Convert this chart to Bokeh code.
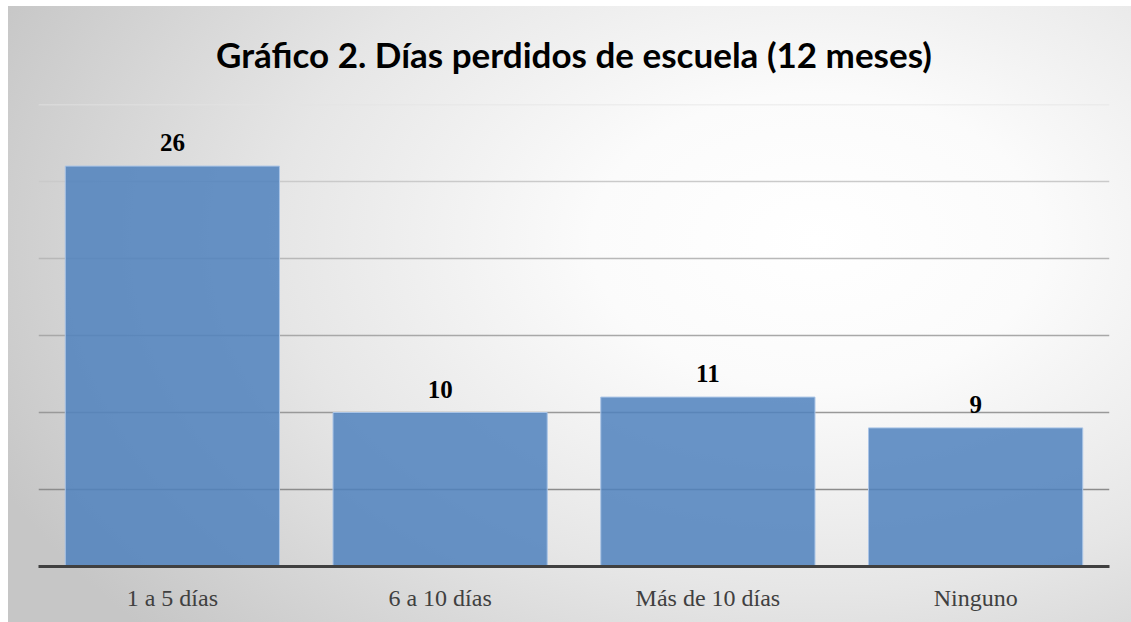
from bokeh.plotting import figure
from bokeh.embed import file_html
from bokeh.resources import INLINE
from bokeh.models import ColumnDataSource, Range1d
from bokeh.core.properties import value

categories = ["1 a 5 días", "6 a 10 días", "Más de 10 días", "Ninguno"]
values = [26, 10, 11, 9]
grid_ticks = [5, 10, 15, 20, 25, 30]
grid_colors = ["#8c8c8c", "#999999", "#a8a8a8", "#b8b8b8", "#cacaca", "#e4e4e4"]

src = ColumnDataSource(dict(cat=categories, val=values, lab=[str(v) for v in values]))

p = figure(x_range=categories, y_range=Range1d(0, 30), width=1131, height=622,
           output_backend="svg", toolbar_location=None,
           min_border_left=38, min_border_right=22, min_border_top=104, min_border_bottom=56)

p.styles = {"background": "radial-gradient(ellipse 80% 95% at 72% 38%, #ffffff 0%, #fbfbfb 25%, #e6e6e6 60%, #c6c6c6 100%) 8px 6px / calc(100% - 8px) calc(100% - 6px) no-repeat, #ffffff"}
p.border_fill_alpha = 0
p.background_fill_alpha = 0
p.outline_line_color = None

p.title.text = "Gráfico 2. Días perdidos de escuela (12 meses)"
p.title.align = "center"
p.title.text_font = "Lato"
p.title.text_font_style = "bold"
p.title.text_font_size = "35px"
p.title.text_color = "#000000"
p.title.standoff = 60

p.xgrid.grid_line_color = None
p.ygrid.grid_line_color = None
p.hspan(y=grid_ticks, line_color=grid_colors, line_width=1.5)

p.vbar(x="cat", top="val", width=0.8, source=src, fill_color="#4f81bd", fill_alpha=0.85,
       line_color="#a9c4e6", line_width=1)

p.text(x="cat", y="val", text="lab", source=src, text_align="center", text_baseline="bottom",
       y_offset=-15, text_font=value("Liberation Serif"), text_font_style="bold",
       text_font_size="25px", text_color="#000000")

p.yaxis.visible = False
p.xaxis.axis_line_color = "#404040"
p.xaxis.axis_line_width = 3
p.xaxis.major_tick_line_color = None
p.xaxis.minor_tick_line_color = None
p.xaxis.major_label_text_font = "Liberation Serif"
p.xaxis.major_label_text_font_size = "24px"
p.xaxis.major_label_text_color = "#404040"
p.xaxis.major_label_standoff = 12

open("out.html", "w").write(file_html(p, INLINE))
